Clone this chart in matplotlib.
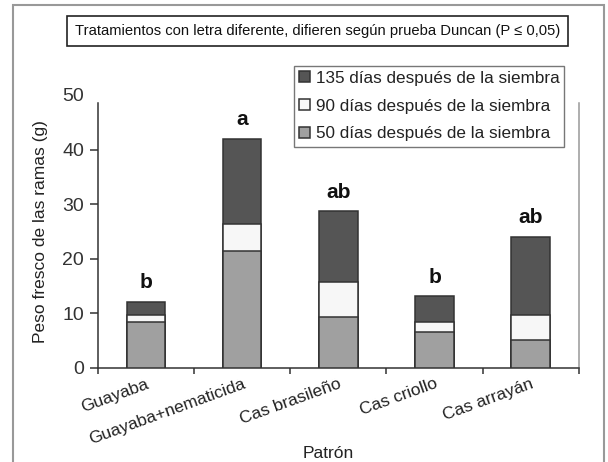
import numpy as np
import matplotlib.pyplot as plt
from matplotlib.patches import Rectangle

plt.rcParams['font.family'] = ['Liberation Sans', 'DejaVu Sans']

# data
patrones = ['Guayaba', 'Guayaba+nematicida', 'Cas brasileño', 'Cas criollo', 'Cas arrayán']
d50 = [8.5, 21.5, 9.3, 6.5, 5.1]      # 50 dias
d90 = [9.7, 26.3, 15.8, 8.4, 9.7]     # acumulado a 90 dias
d135 = [12.1, 42.0, 28.7, 13.1, 24.0]  # acumulado a 135 dias
letras = ['b', 'a', 'ab', 'b', 'ab']
yticks = [0, 10, 20, 30, 40, 50]

fig = plt.figure(figsize=(6.08, 4.62), dpi=100)
ax = fig.add_axes([0.161, 0.2035, 0.791, 0.591])

x = np.arange(len(patrones))
w = 0.4
edge = '#333333'
ax.bar(x, d135, w, color='#555555', edgecolor=edge, lw=1.1, label='135 días después de la siembra', zorder=2)
ax.bar(x, d90, w, color='#f7f7f7', edgecolor=edge, lw=1.1, label='90 días después de la siembra', zorder=3)
ax.bar(x, d50, w, color='#a0a0a0', edgecolor=edge, lw=1.1, label='50 días después de la siembra', zorder=4)

for xi, top, l in zip(x, d135, letras):
    ax.annotate(l, (xi, top), xytext=(0, 7), textcoords='offset points',
                ha='center', va='bottom', fontsize=15, fontweight='bold', color='#111111')

ax.set_xlim(-0.5, len(patrones) - 0.5)
ax.set_ylim(0, 50)
ax.set_yticks(yticks)
ax.tick_params(axis='y', labelsize=14, colors='#333333', length=6, width=1.1, direction='out', pad=4)
ax.yaxis.get_major_ticks()[-1].tick1line.set_visible(False)

# x ticks between categories
ax.set_xticks(np.arange(len(patrones) + 1) - 0.5, minor=False)
ax.set_xticklabels([])
ax.tick_params(axis='x', length=4, width=1.1, colors='#333333', direction='out')
ax.set_xticks(x, minor=True)
ax.set_xticklabels(patrones, minor=True, rotation=20, ha='right', rotation_mode='anchor',
                   fontsize=12.5, color='#222222')
ax.tick_params(axis='x', which='minor', length=0, pad=6)

ax.spines['top'].set_visible(False)
ax.spines['left'].set_bounds(0, 48.5)
ax.spines['right'].set_bounds(0, 48.5)
ax.spines['left'].set_color('#333333')
ax.spines['bottom'].set_color('#333333')
ax.spines['right'].set_color('#999999')
for s in ax.spines.values():
    s.set_linewidth(1.1)

ax.set_ylabel('Peso fresco de las ramas (g)', fontsize=12.5, color='#222222', labelpad=10)
ax.set_xlabel('Patrón', fontsize=12.5, color='#222222')
ax.xaxis.set_label_coords(0.48, -0.285)

h, lab = ax.get_legend_handles_labels()
leg = ax.legend(h, lab, loc='upper right', bbox_to_anchor=(0.97, 1.107), fontsize=12.3,
                frameon=True, fancybox=False, edgecolor='#555555', handlelength=0.6,
                handleheight=0.6, handletextpad=0.35, labelspacing=0.75, borderpad=0.3,
                borderaxespad=0)
leg.get_frame().set_linewidth(1.0)
for t in leg.get_texts():
    t.set_color('#222222')

# note box on top
fig.text(0.522, 0.933, 'Tratamientos con letra diferente, difieren según prueba Duncan (P ≤ 0,05)',
         ha='center', va='center', fontsize=10.6, color='#111111',
         bbox=dict(boxstyle='square,pad=0.55', fc='white', ec='#222222', lw=1.2))

# outer frame
fig.patches.append(Rectangle((0.021, -0.05), 0.972, 1.04, transform=fig.transFigure,
                             fill=False, ec='#999999', lw=1.5))

fig.savefig('out.png', dpi=100)
